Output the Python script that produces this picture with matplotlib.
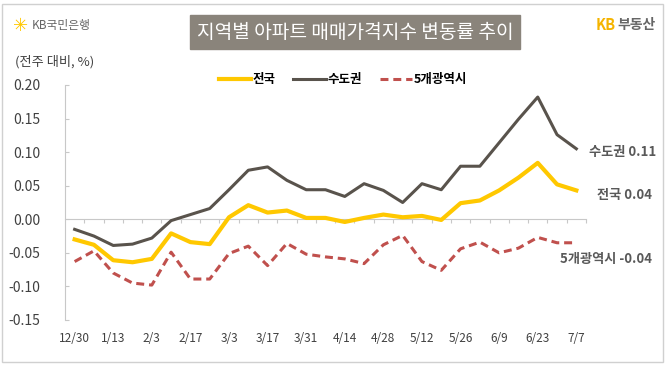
import numpy as np
import matplotlib
matplotlib.use("Agg")
import matplotlib.pyplot as plt
from matplotlib.patches import Rectangle

plt.rcParams['font.family'] = ['Noto Sans CJK KR', 'DejaVu Sans']
plt.rcParams['axes.unicode_minus'] = False

# --- data (weekly change, %) ---
weeks = ['12/30', '1/6', '1/13', '1/20', '2/3', '2/10', '2/17', '2/24', '3/3', '3/10',
         '3/17', '3/24', '3/31', '4/7', '4/14', '4/21', '4/28', '5/5', '5/12', '5/19',
         '5/26', '6/2', '6/9', '6/16', '6/23', '6/30', '7/7']
tick_labels = weeks[::2]

nation = [-0.030, -0.038, -0.061, -0.064, -0.059, -0.021, -0.034, -0.037, 0.003, 0.021,
          0.010, 0.013, 0.002, 0.002, -0.004, 0.002, 0.007, 0.003, 0.005, -0.001,
          0.024, 0.028, 0.043, 0.062, 0.084, 0.052, 0.043]
capital = [-0.015, -0.025, -0.039, -0.037, -0.028, -0.002, 0.007, 0.016, 0.044, 0.073,
           0.078, 0.058, 0.044, 0.044, 0.034, 0.053, 0.043, 0.025, 0.053, 0.044,
           0.079, 0.079, 0.114, 0.149, 0.182, 0.126, 0.105]
metro5 = [-0.063, -0.047, -0.080, -0.095, -0.098, -0.049, -0.089, -0.089, -0.051, -0.040,
          -0.069, -0.036, -0.052, -0.056, -0.059, -0.066, -0.038, -0.024, -0.063, -0.076,
          -0.044, -0.034, -0.050, -0.043, -0.027, -0.035, -0.035]

series_names = ['전국', '수도권', '5개광역시']
end_labels = ['전국 0.04', '수도권 0.11', '5개광역시 -0.04']

YELLOW = '#ffc800'
GRAY = '#59534c'
RED = '#c0504d'
TEXT = '#404040'
SPINE = '#c8c8c8'

fig = plt.figure(figsize=(6.7, 3.66), dpi=100)
fig.patch.set_facecolor('white')

# outer frame
fig.add_artist(Rectangle((0.003, 0.01), 0.987, 0.98, transform=fig.transFigure,
                         fill=False, edgecolor='#d0d0d0', linewidth=1))

ax = fig.add_axes([0.097, 0.1257, 0.7776, 0.6421])
x = np.arange(len(weeks))

l1, = ax.plot(x, nation, color=YELLOW, lw=3.0, solid_joinstyle='round', zorder=4)
l2, = ax.plot(x, capital, color=GRAY, lw=2.2, solid_joinstyle='round', zorder=3)
l3, = ax.plot(x, metro5, color=RED, lw=2.2, dashes=(2.6, 1.6), zorder=3)

ax.set_xlim(-0.5, len(weeks) - 0.5)
ax.set_ylim(-0.15, 0.20)
ax.set_yticks(np.arange(-0.15, 0.201, 0.05))
ax.yaxis.set_major_formatter(plt.FuncFormatter(lambda v, p: f'{v:.2f}'))
ax.tick_params(axis='y', direction='in', length=3, color=SPINE, labelsize=10,
               labelcolor=TEXT, pad=18)

ax.set_xticks(x[::2])
ax.set_xticklabels(tick_labels)
ax.tick_params(axis='x', length=0, labelsize=8.5, labelcolor=TEXT, pad=9)

for s in ['top', 'right', 'bottom']:
    ax.spines[s].set_visible(False)
ax.spines['left'].set_color(SPINE)

# zero line with category tick marks
zero_loc = (0 - ax.get_ylim()[0]) / (ax.get_ylim()[1] - ax.get_ylim()[0])
sec = ax.secondary_xaxis(zero_loc)
sec.set_xticks(np.arange(0.5, len(weeks), 1.0))
sec.set_xticklabels([])
sec.tick_params(axis='x', direction='out', length=3, color=SPINE)
sec.spines['bottom'].set_color(SPINE)

# end-of-line labels
ax.annotate(end_labels[1], (x[-1], capital[-1]), xytext=(9, -2), textcoords='offset points',
            ha='left', va='center', fontsize=9.5, fontweight='bold', color='#595959')
ax.annotate(end_labels[0], (x[-1], nation[-1]), xytext=(15, -3), textcoords='offset points',
            ha='left', va='center', fontsize=9.5, fontweight='bold', color='#595959')
ax.annotate(end_labels[2], (x[-1], metro5[-1]), xytext=(-12, -12), textcoords='offset points',
            ha='left', va='center', fontsize=9.5, fontweight='bold', color='#595959')

# legend
fig.legend([l1, l2, l3], series_names, loc='center', bbox_to_anchor=(343 / 670, 1 - 80 / 366),
           ncol=3, frameon=False, handlelength=2.6, handletextpad=0.15, columnspacing=1.4,
           prop={'size': 9, 'weight': 'bold'})

# title box
fig.text(355 / 670, 1 - 32 / 366, '지역별 아파트 매매가격지수 변동률 추이', ha='center', va='center',
         fontsize=13.8, color='white',
         bbox=dict(boxstyle='square,pad=0.35', facecolor='#8a847b', edgecolor='#8a847b'))

# header texts
fig.text(13 / 670, 1 - 26 / 366, '✳', ha='left', va='center', fontsize=13, color=YELLOW,
         fontweight='bold', family='DejaVu Sans')
fig.text(32 / 670, 1 - 26 / 366, 'KB국민은행', ha='left', va='center', fontsize=8.5, color='#666666')
fig.text(15 / 670, 1 - 62 / 366, '(전주 대비, %)', ha='left', va='center', fontsize=9.5, color=TEXT)
fig.text(596 / 670, 1 - 25 / 366, 'KB', ha='left', va='center', fontsize=10.5, color='#f5b400',
         fontweight='bold')
fig.text(617 / 670, 1 - 25 / 366, '부동산', ha='left', va='center', fontsize=10, color='#666666',
         fontweight='bold')

fig.savefig('out.png', dpi=100)
